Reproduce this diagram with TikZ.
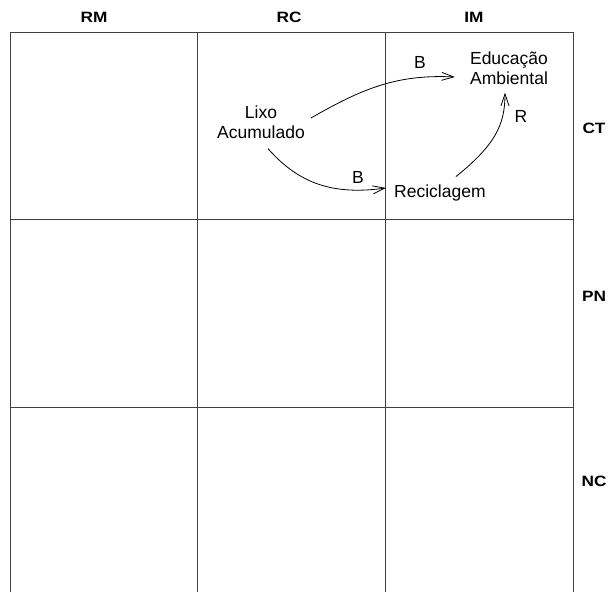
\documentclass[tikz,border=0pt]{standalone}
\usepackage{fontspec}
\setmainfont{Liberation Sans}
\usetikzlibrary{arrows.meta}
\newcommand{\hdrtext}[1]{\scalebox{1.15}[1]{\bfseries #1}}
\begin{document}
\begin{tikzpicture}[x=1pt,y=-1pt,
  grid/.style={draw=black!75,line width=1pt},
  hdr/.style={font=\fontsize{15}{17}\selectfont,inner sep=0pt},
  lbl/.style={font=\fontsize{17.5}{20}\selectfont,inner sep=1pt,align=center},
  conn/.style={line width=0.8pt,-{Straight Barb[length=12pt,width=8pt,line width=0.8pt]}},
  pol/.style={font=\fontsize{17.5}{20}\selectfont,inner sep=0pt}]
\useasboundingbox (0,0) rectangle (616,592);
% grid
\draw[grid] (10,592) -- (10,32) -- (573,32) -- (573,592);
\draw[grid] (197,32) -- (197,592);
\draw[grid] (385,32) -- (385,592);
\draw[grid] (10,219) -- (573,219);
\draw[grid] (10,407) -- (573,407);
% headers
\node[hdr] (rm) at (94,17) {\hdrtext{RM}};
\node[hdr] (rc) at (289,17) {\hdrtext{RC}};
\node[hdr] (im) at (474,17) {\hdrtext{IM}};
\node[hdr] (ct) at (594,128) {\hdrtext{CT}};
\node[hdr] (pn) at (594,296) {\hdrtext{PN}};
\node[hdr] (nc) at (594,481) {\hdrtext{NC}};
% nodes
\node[lbl] (lixo) at (261,122) {Lixo\\Acumulado};
\node[lbl] (edu) at (509,68) {Educação\\Ambiental};
\node[lbl,anchor=west] (rec) at (393,193) {Reciclagem};
% connectors
\draw[conn] ([xshift=5pt,yshift=4pt]lixo.east) .. controls (360,90) and (395,74) .. ([xshift=-14pt,yshift=-9pt]edu.west);
\draw[conn] ([xshift=7pt,yshift=-9pt]lixo.south) .. controls (300,185) and (335,195) .. ([xshift=-7pt,yshift=5pt]rec.west);
\draw[conn] ([xshift=16pt,yshift=7pt]rec.north) .. controls (495,145) and (505,125) .. ([xshift=-4pt,yshift=-7pt]edu.south);
% polarity labels
\node[pol] (b1) at (420,62) {B};
\node[pol] (b2) at (358,177) {B};
\node[pol] (r1) at (521,116) {R};
\end{tikzpicture}
\end{document}
